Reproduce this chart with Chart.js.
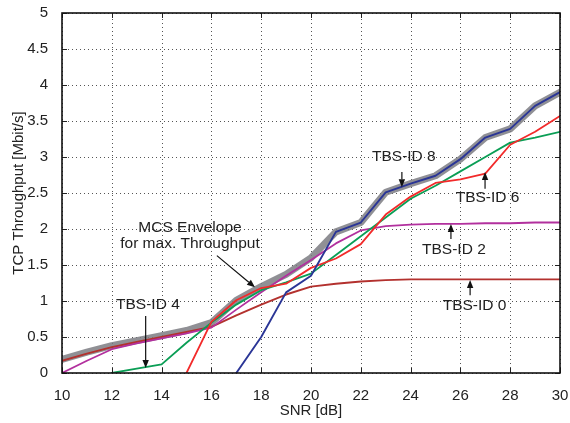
<!DOCTYPE html>
<html>
<head>
<meta charset="utf-8">
<script src="https://cdn.jsdelivr.net/npm/chart.js@4/dist/chart.umd.min.js"></script>
<style>
html,body{margin:0;padding:0;background:#fff;}
#wrap{width:570px;height:423px;position:relative;}
</style>
</head>
<body>
<div id="wrap"><canvas id="c" width="570" height="423"></canvas></div>
<script>
// ---- data ----
const snr = [10,11,12,13,14,15,16,17,18,19,20,21,22,23,24,25,26,27,28,29,30];
const envelope = [0.19,0.29,0.38,0.45,0.52,0.59,0.70,1.01,1.20,1.37,1.60,1.96,2.09,2.51,2.63,2.74,2.97,3.27,3.39,3.71,3.90];
const tbs0 = [0.17,0.27,0.36,0.43,0.50,0.57,0.64,0.80,0.95,1.09,1.20,1.24,1.27,1.29,1.30,1.30,1.30,1.30,1.30,1.30,1.30];
const tbs2 = [0.00,0.17,0.33,0.41,0.48,0.55,0.63,0.88,1.12,1.35,1.57,1.80,1.98,2.04,2.06,2.07,2.07,2.08,2.08,2.09,2.09];
const tbs4 = [null,null,0.00,0.06,0.12,0.42,0.70,0.95,1.15,1.26,1.38,1.64,1.90,2.16,2.42,2.60,2.80,3.00,3.20,3.27,3.35];
const tbs6 = [null,null,null,null,null,0.00,0.71,1.01,1.18,1.24,1.46,1.59,1.79,2.20,2.45,2.64,2.69,2.77,3.17,3.35,3.57];
const tbs8 = [null,null,null,null,null,null,null,0.00,0.50,1.12,1.35,1.96,2.09,2.51,2.63,2.74,2.97,3.27,3.39,3.71,3.90];
const xTicks = [10,12,14,16,18,20,22,24,26,28,30];
const yTicks = [0,0.5,1,1.5,2,2.5,3,3.5,4,4.5,5];

// annotation labels (data coordinates)
const labelTexts = ["TBS-ID 8","TBS-ID 6","TBS-ID 2","TBS-ID 0","TBS-ID 4"];
const labelPos = [[23.73,3.00],[27.09,2.43],[25.74,1.71],[26.57,0.93],[13.45,0.95]];
const arrowFrom = [[23.65,2.79],[26.99,2.56],[25.62,1.86],[26.39,1.08],[13.36,0.79],[16.22,1.63]];
const arrowTo   = [[23.65,2.58],[26.99,2.79],[25.62,2.07],[26.39,1.29],[13.36,0.07],[17.75,1.19]];
const envLabel = ["MCS Envelope","for max. Throughput"];
const envLabelPos = [[15.14,2.02],[15.14,1.79]];

function pts(arr){
  const out=[];
  for(let i=0;i<snr.length;i++){ if(arr[i]!==null) out.push({x:snr[i],y:arr[i]}); }
  return out;
}

const FONT = '"Liberation Sans", Arial, Helvetica, sans-serif';

function drawGrid(chart){
  const {ctx, chartArea:a, scales:{x,y}} = chart;
  ctx.save();
  ctx.fillStyle='#555555';
  xTicks.forEach(v=>{
    const px=Math.round(x.getPixelForValue(v));
    for(let py=Math.round(a.top)+2; py<a.bottom; py+=4){ ctx.fillRect(px,py,1,1); }
  });
  yTicks.forEach(v=>{
    const py=Math.round(y.getPixelForValue(v));
    for(let px=Math.round(a.left)+2; px<a.right; px+=4){ ctx.fillRect(px,py,1,1); }
  });
  ctx.restore();
}

const framePlugin = {
  id:'frame',
  beforeDatasetsDraw(chart){ drawGrid(chart); },
  afterDatasetsDraw(chart){
    const {ctx, chartArea:a, scales:{x,y}} = chart;
    ctx.save();
    ctx.strokeStyle='#222'; ctx.lineWidth=1;
    const tl=5;
    xTicks.forEach(v=>{
      const px=Math.round(x.getPixelForValue(v))+0.5;
      ctx.beginPath(); ctx.moveTo(px,a.bottom); ctx.lineTo(px,a.bottom-tl);
      ctx.moveTo(px,a.top); ctx.lineTo(px,a.top+tl); ctx.stroke();
    });
    yTicks.forEach(v=>{
      const py=Math.round(y.getPixelForValue(v))+0.5;
      ctx.beginPath(); ctx.moveTo(a.left,py); ctx.lineTo(a.left+tl,py);
      ctx.moveTo(a.right,py); ctx.lineTo(a.right-tl,py); ctx.stroke();
    });
    ctx.lineWidth=1.6; ctx.strokeStyle='#111';
    ctx.strokeRect(a.left,a.top,a.right-a.left,a.bottom-a.top);

    ctx.fillStyle='#222';
    ctx.font='15.5px '+FONT;
    ctx.textAlign='center'; ctx.textBaseline='middle';
    labelTexts.forEach((t,i)=>{
      ctx.fillText(t, x.getPixelForValue(labelPos[i][0]), y.getPixelForValue(labelPos[i][1]));
    });
    envLabel.forEach((t,i)=>{
      ctx.fillText(t, x.getPixelForValue(envLabelPos[i][0]), y.getPixelForValue(envLabelPos[i][1]));
    });
    ctx.strokeStyle='#111'; ctx.fillStyle='#111'; ctx.lineWidth=1.2;
    arrowFrom.forEach((f,i)=>{
      const x0=x.getPixelForValue(f[0]), y0=y.getPixelForValue(f[1]);
      const x1=x.getPixelForValue(arrowTo[i][0]), y1=y.getPixelForValue(arrowTo[i][1]);
      const ang=Math.atan2(y1-y0,x1-x0);
      const hl=8, hw=3.2;
      const bx=x1-hl*Math.cos(ang), by=y1-hl*Math.sin(ang);
      ctx.beginPath(); ctx.moveTo(x0,y0); ctx.lineTo(bx,by); ctx.stroke();
      ctx.beginPath();
      ctx.moveTo(x1,y1);
      ctx.lineTo(bx+hw*Math.sin(ang), by-hw*Math.cos(ang));
      ctx.lineTo(bx-hw*Math.sin(ang), by+hw*Math.cos(ang));
      ctx.closePath(); ctx.fill();
    });
    ctx.restore();
  }
};

function ds(label,arr,color,width){
  return {label, data:pts(arr), borderColor:color, backgroundColor:color, borderWidth:width,
    pointRadius:0, pointHoverRadius:0, tension:0, fill:false, borderJoinStyle:'round', borderCapStyle:'round'};
}

new Chart(document.getElementById('c'), {
  type:'line',
  data:{
    datasets:[
      ds('TBS-ID 8', tbs8, '#2a3596', 1.9),
      ds('TBS-ID 6', tbs6, '#f22a2a', 1.8),
      ds('TBS-ID 4', tbs4, '#0a9e55', 1.8),
      ds('TBS-ID 2', tbs2, '#b2309e', 1.8),
      ds('TBS-ID 0', tbs0, '#b3312e', 1.9),
      ds('MCS Envelope', envelope, 'rgba(125,125,130,0.85)', 7)
    ]
  },
  options:{
    responsive:false, animation:false, devicePixelRatio:1,
    layout:{padding:{top:13,right:10,left:0,bottom:0}},
    plugins:{legend:{display:false}, tooltip:{enabled:false}},
    scales:{
      x:{type:'linear', min:10, max:30,
        afterFit(s){ s.height=50; s.paddingLeft=0; s.paddingRight=0; },
        afterBuildTicks(s){ s.ticks = xTicks.map(v=>({value:v})); },
        ticks:{padding:14, color:'#222', font:{family:FONT, size:15}, maxRotation:0,
          callback:(v)=>String(v)},
        grid:{display:false, drawTicks:false},
        border:{display:false},
        title:{display:true, text:'SNR [dB]', color:'#222', font:{family:FONT,size:15}, padding:{top:4,bottom:3}}
      },
      y:{type:'linear', min:0, max:5,
        afterFit(s){ s.width=62; s.paddingTop=0; s.paddingBottom=0; },
        afterBuildTicks(s){ s.ticks = yTicks.map(v=>({value:v})); },
        ticks:{padding:14, color:'#222', font:{family:FONT, size:15},
          callback:(v)=>String(v)},
        grid:{display:false, drawTicks:false},
        border:{display:false},
        title:{display:true, text:'TCP Throughput [Mbit/s]', color:'#222', font:{family:FONT,size:15}, padding:{top:10,bottom:0}}
      }
    }
  },
  plugins:[framePlugin]
});
</script>
</body>
</html>
